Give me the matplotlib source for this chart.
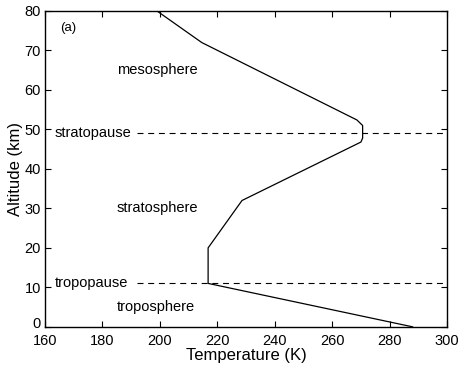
import matplotlib
matplotlib.use('Agg')
import matplotlib.pyplot as plt
from matplotlib.transforms import ScaledTranslation

plt.rcParams['font.family'] = ['Liberation Sans', 'DejaVu Sans']
plt.rcParams['lines.scale_dashes'] = False

# temperature profile
temperature = [288.0, 216.8, 216.8, 228.6, 270.0, 270.6, 270.6, 268.6, 214.6, 199.0]
altitude = [0, 11, 20, 32, 46.8, 47.8, 51, 52.4, 72, 80]

# layer boundaries (dashed lines) and labels
pause_names = ['tropopause', 'stratopause']
pause_alt = [11, 49]
layer_names = ['troposphere', 'stratosphere', 'mesosphere']
layer_alt = [5, 30, 65]

fig = plt.figure(figsize=(4.59, 3.66), dpi=100)
ax = fig.add_axes([0.098, 0.107, 0.876, 0.863])

ax.plot(temperature, altitude, color='black', lw=0.9)

for name, a in zip(pause_names, pause_alt):
    ax.plot([192, 300], [a, a], color='black', lw=0.8, dashes=(4.3, 3.4))
    ax.text(163.5, a, name, fontsize=10.5, ha='left', va='center')

for name, a in zip(layer_names, layer_alt):
    ax.text(185, a, name, fontsize=10.5, ha='left', va='center')

ax.text(165.2, 75.7, '(a)', fontsize=9.5, ha='left', va='center')

ax.set_xlim(160, 300)
ax.set_ylim(0, 80)
ax.set_xticks(range(160, 301, 20))
ax.set_yticks(range(0, 81, 10))
ax.tick_params(direction='in', top=True, right=True, length=4, width=0.8,
               labelsize=10.5)
ax.tick_params(axis='x', pad=5)
ax.tick_params(axis='y', pad=3)
for s in ax.spines.values():
    s.set_linewidth(1.0)

# nudge the "0" label up a little so it clears "160"
lab0 = ax.get_yticklabels()[0]
lab0.set_transform(lab0.get_transform() + ScaledTranslation(0, 3 / 72, fig.dpi_scale_trans))

ax.set_xlabel('Temperature (K)', fontsize=12, labelpad=0)
ax.set_ylabel('Altitude (km)', fontsize=12, labelpad=1)

fig.savefig('out.png', dpi=100)
